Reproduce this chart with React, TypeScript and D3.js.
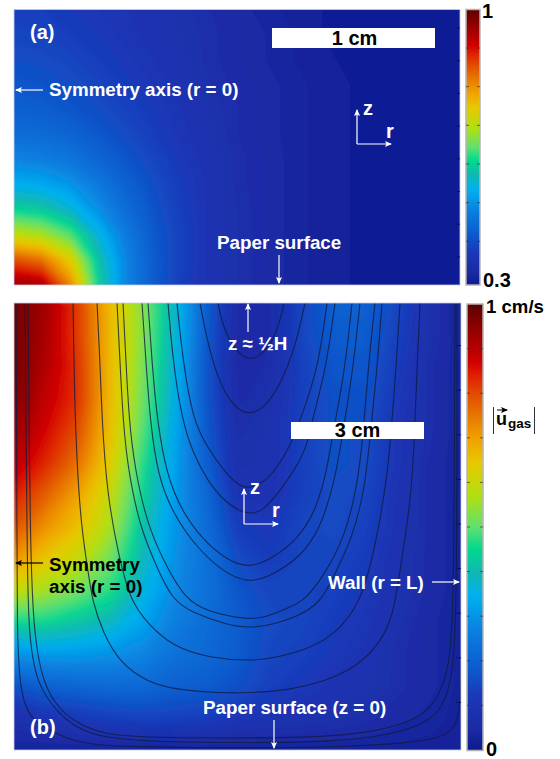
import React from "react";
import * as d3 from "d3";

// colour map, position on the bar and colour
const colorPos = [0, 0.045, 0.12, 0.195, 0.27, 0.345, 0.4, 0.45, 0.5, 0.57, 0.645, 0.7, 0.795, 0.84, 0.87, 0.945, 1];
const colorHex = ["#0c1a8c", "#1a2aa4", "#1a38b8", "#0a60d0", "#0a80e0", "#00b0f0", "#10b8b0", "#00d890", "#60e070", "#b0e010", "#e8c800", "#f0a000", "#e05000", "#e02000", "#d00000", "#900000", "#5c0000"];

// panel (a): rows top to bottom, y = 10..285 every 25 px; columns x = 14..462 every 28 px
const fieldA = [
  [0.14, 0.135, 0.125, 0.115, 0.105, 0.095, 0.08, 0.065, 0.05, 0.04, 0.03, 0.025, 0.02, 0.02, 0.02, 0.02, 0.02],
  [0.15, 0.145, 0.135, 0.125, 0.11, 0.1, 0.085, 0.07, 0.055, 0.045, 0.035, 0.025, 0.02, 0.02, 0.02, 0.02, 0.02],
  [0.165, 0.16, 0.15, 0.135, 0.12, 0.105, 0.09, 0.07, 0.055, 0.045, 0.035, 0.03, 0.02, 0.02, 0.02, 0.02, 0.02],
  [0.18, 0.175, 0.165, 0.15, 0.13, 0.115, 0.095, 0.075, 0.06, 0.05, 0.04, 0.03, 0.025, 0.02, 0.02, 0.02, 0.02],
  [0.2, 0.195, 0.18, 0.165, 0.145, 0.125, 0.105, 0.085, 0.065, 0.05, 0.04, 0.03, 0.025, 0.02, 0.02, 0.02, 0.02],
  [0.23, 0.225, 0.21, 0.185, 0.16, 0.135, 0.11, 0.09, 0.065, 0.05, 0.04, 0.03, 0.025, 0.02, 0.02, 0.02, 0.02],
  [0.28, 0.27, 0.25, 0.215, 0.18, 0.15, 0.12, 0.095, 0.07, 0.055, 0.04, 0.03, 0.025, 0.02, 0.02, 0.02, 0.02],
  [0.35, 0.34, 0.31, 0.26, 0.205, 0.165, 0.13, 0.1, 0.07, 0.055, 0.04, 0.03, 0.025, 0.02, 0.02, 0.02, 0.02],
  [0.45, 0.43, 0.38, 0.3, 0.23, 0.175, 0.135, 0.1, 0.075, 0.055, 0.04, 0.03, 0.025, 0.02, 0.02, 0.02, 0.02],
  [0.6, 0.57, 0.5, 0.37, 0.26, 0.185, 0.14, 0.1, 0.075, 0.055, 0.04, 0.03, 0.025, 0.02, 0.02, 0.02, 0.02],
  [0.8, 0.76, 0.64, 0.42, 0.28, 0.19, 0.14, 0.1, 0.075, 0.055, 0.04, 0.03, 0.025, 0.02, 0.02, 0.02, 0.02],
  [0.94, 0.92, 0.74, 0.45, 0.28, 0.19, 0.135, 0.1, 0.075, 0.055, 0.04, 0.03, 0.025, 0.02, 0.02, 0.02, 0.02],
];

// panel (b): columns left to right, x = 14..462 every 32 px; each column y = 303..751 every 32 px
const fieldBCols = [
  [0.98, 0.98, 0.98, 0.97, 0.94, 0.9, 0.85, 0.8, 0.72, 0.6, 0.45, 0.3, 0.17, 0.08, 0.03],
  [0.93, 0.92, 0.91, 0.89, 0.87, 0.84, 0.78, 0.72, 0.65, 0.56, 0.45, 0.31, 0.2, 0.1, 0.03],
  [0.82, 0.82, 0.83, 0.83, 0.8, 0.76, 0.7, 0.66, 0.6, 0.52, 0.42, 0.31, 0.21, 0.12, 0.03],
  [0.67, 0.67, 0.67, 0.67, 0.66, 0.64, 0.6, 0.57, 0.52, 0.47, 0.39, 0.3, 0.22, 0.13, 0.03],
  [0.54, 0.54, 0.53, 0.52, 0.5, 0.47, 0.45, 0.42, 0.4, 0.37, 0.33, 0.28, 0.22, 0.14, 0.03],
  [0.39, 0.38, 0.37, 0.36, 0.34, 0.33, 0.32, 0.31, 0.3, 0.29, 0.27, 0.24, 0.2, 0.14, 0.03],
  [0.2, 0.19, 0.18, 0.18, 0.19, 0.2, 0.22, 0.23, 0.24, 0.24, 0.23, 0.22, 0.19, 0.13, 0.03],
  [0.06, 0.05, 0.05, 0.06, 0.07, 0.08, 0.1, 0.13, 0.16, 0.18, 0.19, 0.19, 0.17, 0.11, 0.03],
  [0.06, 0.06, 0.07, 0.08, 0.09, 0.09, 0.1, 0.12, 0.13, 0.15, 0.16, 0.15, 0.14, 0.1, 0.03],
  [0.15, 0.15, 0.14, 0.14, 0.14, 0.14, 0.14, 0.15, 0.15, 0.15, 0.15, 0.14, 0.12, 0.09, 0.03],
  [0.2, 0.19, 0.18, 0.17, 0.17, 0.17, 0.16, 0.16, 0.15, 0.14, 0.13, 0.12, 0.1, 0.08, 0.03],
  [0.2, 0.19, 0.18, 0.17, 0.16, 0.16, 0.15, 0.14, 0.13, 0.12, 0.11, 0.1, 0.09, 0.07, 0.03],
  [0.15, 0.14, 0.13, 0.12, 0.11, 0.11, 0.1, 0.1, 0.09, 0.09, 0.08, 0.07, 0.07, 0.05, 0.03],
  [0.08, 0.08, 0.07, 0.07, 0.07, 0.06, 0.06, 0.06, 0.06, 0.06, 0.05, 0.05, 0.05, 0.04, 0.03],
  [0.03, 0.03, 0.03, 0.03, 0.03, 0.03, 0.03, 0.03, 0.03, 0.03, 0.03, 0.03, 0.03, 0.03, 0.03],
];

// streamlines of panel (b), [r, z] in domain 0..447, inner to outer
const streamlines: [number, number][][] = [
  [[204, 447], [209, 422], [223, 397], [236, 389], [251, 397], [264, 420], [270, 447]],
  [[186, 447], [192, 415], [203, 372], [219, 343], [236, 334], [254, 345], [271, 375], [283, 410], [291, 447]],
  [[163, 447], [169, 388], [179, 330], [193, 303], [213, 275], [228, 261], [246, 264], [263, 281], [279, 310], [286, 330], [304, 380], [313, 447]],
  [[154, 447], [159, 388], [168, 330], [179, 297], [193, 270], [209, 250], [229, 236], [246, 237], [259, 250], [279, 277], [293, 303], [298, 330], [312, 380], [321, 447]],
  [[134, 447], [138, 388], [143, 330], [153, 273], [169, 237], [189, 210], [213, 190], [234, 182], [256, 190], [283, 210], [301, 237], [313, 280], [318, 312], [331, 380], [338, 447]],
  [[128, 447], [132, 388], [136, 330], [144, 273], [159, 237], [179, 207], [206, 180], [234, 166], [259, 175], [286, 193], [306, 220], [321, 270], [328, 312], [339, 380], [346, 447]],
  [[109, 447], [112, 388], [115, 330], [121, 280], [133, 227], [149, 190], [171, 150], [196, 138], [219, 133], [236, 131], [253, 133], [276, 143], [291, 150], [309, 173], [331, 213], [343, 263], [349, 312], [354, 380], [361, 447]],
  [[103, 447], [106, 388], [109, 330], [114, 280], [126, 223], [141, 187], [158, 150], [179, 137], [213, 125], [236, 122], [256, 125], [283, 133], [306, 147], [318, 170], [339, 213], [351, 263], [356, 312], [363, 380], [368, 447]],
  [[83, 447], [86, 388], [88, 330], [93, 257], [104, 197], [116, 150], [133, 127], [159, 103], [196, 92], [236, 89], [259, 92], [293, 100], [323, 117], [346, 147], [358, 190], [366, 230], [374, 280], [378, 330], [382, 380], [386, 447]],
  [[59, 447], [60, 388], [61, 330], [66, 230], [74, 180], [78, 150], [89, 117], [106, 87], [133, 68], [163, 60], [206, 57], [236, 57], [276, 60], [309, 68], [343, 83], [366, 107], [379, 133], [386, 180], [394, 230], [399, 280], [401, 330], [403, 380], [406, 447]],
  [[14, 447], [16, 220], [19, 120], [29, 65], [46, 40], [63, 27], [89, 15], [146, 12], [246, 12], [309, 13], [359, 18], [393, 27], [416, 40], [429, 63], [436, 90], [440, 150], [441, 447]],
  [[11, 447], [13, 220], [14, 120], [22, 65], [46, 35], [63, 22], [89, 12], [146, 8], [246, 7], [326, 9], [376, 15], [413, 27], [429, 43], [439, 73], [443, 150], [443, 447]],
  [[2, 447], [3, 220], [3, 120], [6, 53], [19, 27], [46, 15], [63, 8], [96, 3], [246, 2], [326, 3], [393, 7], [426, 12], [439, 20], [446, 37], [447, 70]],
];

const barTicksA = d3.range(0.4, 1, 0.1);
const barTicksB = d3.range(0.1, 1, 0.1);

const color = d3.scaleLinear<string>().domain(colorPos).range(colorHex).interpolate(d3.interpolateRgb);
const levels = d3.range(0.005, 1, 0.01);
const FONT = "'Liberation Sans', Arial, sans-serif";

function Field({ id, rows, box }: { id: string; rows: number[][]; box: number[] }) {
  // box = x of first and last column, y of first and last row
  const [x0, x1, y0, y1] = box;
  const ny = rows.length;
  const nx = rows[0].length;
  const dx = (x1 - x0) / (nx - 1);
  const dy = (y1 - y0) / (ny - 1);
  const xs = d3.scaleLinear().domain([0, nx]).range([x0 - dx / 2, x1 + dx / 2]);
  const ys = d3.scaleLinear().domain([0, ny]).range([y0 - dy / 2, y1 + dy / 2]);
  const path = d3.geoPath(
    d3.geoTransform({
      point(x, y) {
        this.stream.point(xs(x), ys(y));
      },
    })
  );
  const bands = d3.contours().size([nx, ny]).thresholds(levels)(rows.flat());
  return (
    <g clipPath={`url(#${id})`}>
      <g filter={`url(#soft${id})`}>
        <rect x={x0 - 20} y={y0 - 20} width={x1 - x0 + 40} height={y1 - y0 + 40} fill={color(0)} />
        {bands.map((b, i) => (
          <path key={i} d={path(b) || ""} fill={color(b.value)} stroke={color(b.value)} strokeWidth={0.5} />
        ))}
      </g>
    </g>
  );
}

function Bar({ x, w, y0, y1, ticks, scale }: any) {
  return (
    <g>
      <rect x={x} y={y0} width={w} height={y1 - y0} fill="url(#cmap)" stroke="#b4b4b4" strokeWidth={1.5} />
      {ticks.map((t: number) => (
        <g key={t} stroke="#333" strokeOpacity={0.7} strokeWidth={1}>
          <line x1={x} x2={x + 3} y1={scale(t)} y2={scale(t)} />
          <line x1={x + w - 3} x2={x + w} y1={scale(t)} y2={scale(t)} />
        </g>
      ))}
    </g>
  );
}

function Label({ x, y, size = 18.8, fill = "#fff", children, anchor = "start" }: any) {
  return (
    <text x={x} y={y} fontSize={size} fontWeight="bold" fill={fill} textAnchor={anchor} fontFamily={FONT}>
      {children}
    </text>
  );
}

function Arrow({ x1, y1, x2, y2, c = "#fff" }: any) {
  return <line x1={x1} y1={y1} x2={x2} y2={y2} stroke={c} strokeWidth={1.2} markerEnd={c === "#fff" ? "url(#headW)" : "url(#headK)"} />;
}

export default function App() {
  const rScale = d3.scaleLinear().domain([0, 447]).range([14, 461]);
  const zScale = d3.scaleLinear().domain([0, 447]).range([750, 303]);
  const streamline = d3
    .line<[number, number]>()
    .x((d) => rScale(d[0]))
    .y((d) => zScale(d[1]))
    .curve(d3.curveBasis);
  const barA = d3.scaleLinear().domain([0.3, 1]).range([280, 9.3]);
  const barB = d3.scaleLinear().domain([0, 1]).range([750, 304]);
  const edgeA = d3.range(28, 260, 32.7);
  const fieldB = d3.transpose(fieldBCols) as number[][];

  return (
    <svg width={560} height={759} style={{ position: "absolute", left: 0, top: 0, display: "block", background: "#fff" }}>
      <defs>
        <clipPath id="clipA"><rect x={14} y={9.5} width={446} height={275.5} /></clipPath>
        <clipPath id="clipB"><rect x={14} y={303} width={447} height={447} /></clipPath>
        <filter id="softclipA" x="-5%" y="-5%" width="110%" height="110%"><feGaussianBlur stdDeviation={2.5} /></filter>
        <filter id="softclipB" x="-5%" y="-5%" width="110%" height="110%"><feGaussianBlur stdDeviation={5} /></filter>
        <linearGradient id="cmap" x1="0" x2="0" y1="1" y2="0">
          {colorPos.map((p, i) => <stop key={p} offset={p} stopColor={colorHex[i]} />)}
        </linearGradient>
        <marker id="headW" markerWidth={8} markerHeight={8} refX={6} refY={3} orient="auto" markerUnits="userSpaceOnUse">
          <path d="M0,0 L7,3 L0,6 L1.5,3 Z" fill="#fff" />
        </marker>
        <marker id="headK" markerWidth={8} markerHeight={8} refX={6} refY={3} orient="auto" markerUnits="userSpaceOnUse">
          <path d="M0,0 L7,3 L0,6 L1.5,3 Z" fill="#000" />
        </marker>
      </defs>

      {/* panel a */}
      <Field id="clipA" rows={fieldA} box={[14, 462, 10, 285]} />
      <rect x={14} y={9.5} width={446} height={275.5} fill="none" stroke="#c8cce4" strokeWidth={0.8} />
      {edgeA.map((y) => <line key={y} x1={455} x2={460} y1={y} y2={y} stroke="#0a1560" strokeWidth={1} />)}
      <Label x={30} y={39} size={20}>(a)</Label>
      <rect x={272} y={28} width={163} height={20} fill="#fff" />
      <Label x={354.5} y={45} size={20} fill="#000" anchor="middle">1 cm</Label>
      <Arrow x1={43} y1={90} x2={16} y2={90} />
      <Label x={49} y={96}>Symmetry axis (r = 0)</Label>
      <Arrow x1={357} y1={144} x2={357} y2={110} />
      <Arrow x1={357} y1={144} x2={391} y2={144} />
      <Label x={363} y={115} size={20}>z</Label>
      <Label x={386} y={138} size={20}>r</Label>
      <Label x={217} y={249}>Paper surface</Label>
      <Arrow x1={279} y1={255} x2={279} y2={283} />
      <Bar x={466} w={14} y0={9.5} y1={285} ticks={barTicksA} scale={barA} />
      <Label x={482} y={18} size={20} fill="#000">1</Label>
      <Label x={483} y={287} size={20} fill="#000">0.3</Label>

      {/* panel b */}
      <Field id="clipB" rows={fieldB} box={[14, 462, 303, 751]} />
      <g clipPath="url(#clipB)">
        {streamlines.map((s, i) => (
          <path key={i} d={streamline(s) || ""} fill="none" stroke="#101c40" strokeOpacity={0.8} strokeWidth={1.1} />
        ))}
      </g>
      <rect x={14} y={303} width={447} height={447} fill="none" stroke="#c8cce4" strokeWidth={0.8} />
      {barTicksB.map((t) => <line key={t} x1={456} x2={461} y1={barB(t) - 3} y2={barB(t) - 3} stroke="#0a1560" strokeWidth={1} />)}
      <Arrow x1={248} y1={332} x2={248} y2={304} />
      <Label x={228} y={350}>z ≈ ½H</Label>
      <rect x={291} y={422} width={133} height={17} fill="#fff" />
      <Label x={357.5} y={437} size={20} fill="#000" anchor="middle">3 cm</Label>
      <Arrow x1={244} y1={524} x2={244} y2={489} />
      <Arrow x1={244} y1={524} x2={278} y2={524} />
      <Label x={250} y={494} size={20}>z</Label>
      <Label x={272} y={517} size={20}>r</Label>
      <Arrow x1={43} y1={563} x2={16} y2={563} c="#000" />
      <Label x={49} y={570.5} fill="#000">Symmetry</Label>
      <Label x={49} y={592.5} fill="#000">axis (r = 0)</Label>
      <Label x={328} y={589}>Wall (r = L)</Label>
      <Arrow x1={432} y1={582} x2={459} y2={582} />
      <Label x={203} y={714}>Paper surface (z = 0)</Label>
      <Arrow x1={274} y1={720} x2={274} y2={748} />
      <Label x={30} y={734} size={20}>(b)</Label>
      <Bar x={467} w={16} y0={304} y1={750.5} ticks={barTicksB} scale={barB} />
      <Label x={486} y={313} size={18.6} fill="#000">1 cm/s</Label>
      <Label x={486} y={756} size={20} fill="#000">0</Label>
      <g>
        <line x1={493.5} x2={493.5} y1={407} y2={434} stroke="#333" strokeWidth={1} />
        <line x1={534.5} x2={534.5} y1={407} y2={434} stroke="#333" strokeWidth={1} />
        <Label x={496} y={425} size={18} fill="#000">u</Label>
        <Label x={508} y={428} size={13.5} fill="#000">gas</Label>
        <line x1={497} x2={507} y1={410} y2={410} stroke="#000" strokeWidth={1} markerEnd="url(#headK)" />
      </g>
    </svg>
  );
}
